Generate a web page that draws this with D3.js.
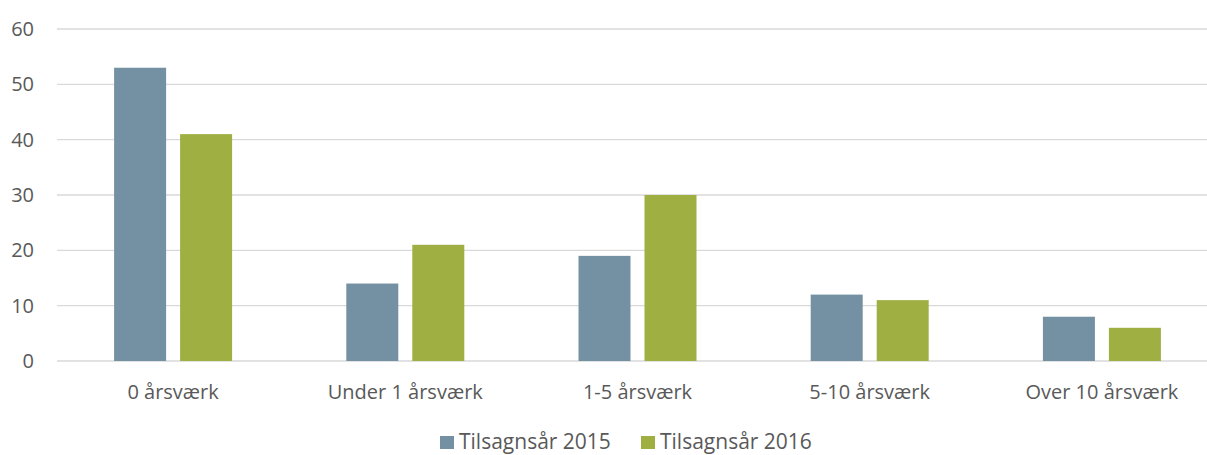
<!DOCTYPE html>
<html>
<head>
<meta charset="utf-8">
<script src="https://cdn.jsdelivr.net/npm/d3@7"></script>
<style>
  body { margin: 0; background: #fff; overflow: hidden; }
  text { font-family: "Open Sans", "Noto Sans", sans-serif; fill: #595959; }
</style>
</head>
<body>
<svg id="chart"></svg>
<script>
// Chart data
const categories = ['0 årsværk', 'Under 1 årsværk', '1-5 årsværk', '5-10 årsværk', 'Over 10 årsværk'];
const seriesNames = ['Tilsagnsår 2015', 'Tilsagnsår 2016'];
const values2015 = [53, 14, 19, 12, 8];
const values2016 = [41, 21, 30, 11, 6];
const yTicks = [0, 10, 20, 30, 40, 50, 60];
const colors = ['#7491a3', '#9faf42'];

const width = 1207, height = 455;
const margin = { top: 29, bottom: 94, left: 57 };

const svg = d3.select('#chart')
    .attr('width', width)
    .attr('height', height);

// plot area runs a little past the right edge of the picture
const x = d3.scaleBand()
    .domain(categories)
    .range([margin.left, 1218]);

const xInner = d3.scaleBand()
    .domain(seriesNames)
    .range([0, 118])
    .paddingInner(0.212);

const y = d3.scaleLinear()
    .domain([0, 60])
    .range([height - margin.bottom, margin.top]);

// Gridlines
svg.append('g')
    .selectAll('line')
    .data(yTicks)
    .join('line')
    .attr('x1', margin.left)
    .attr('x2', width)
    .attr('y1', d => y(d))
    .attr('y2', d => y(d))
    .attr('stroke', '#d9d9d9')
    .attr('stroke-width', 1.3);

// Y labels
svg.append('g')
    .selectAll('text')
    .data(yTicks)
    .join('text')
    .attr('x', 34)
    .attr('y', d => y(d))
    .attr('dy', '0.35em')
    .attr('text-anchor', 'end')
    .attr('font-size', 20)
    .text(d => d);

// Bars
const rows = categories.map((c, i) => ({ cat: c, vals: [values2015[i], values2016[i]] }));

const groups = svg.append('g')
    .selectAll('g')
    .data(rows)
    .join('g')
    .attr('transform', d => `translate(${x(d.cat) + x.bandwidth() / 2 - 59},0)`);

groups.selectAll('rect')
    .data(d => d.vals.map((v, j) => ({ name: seriesNames[j], v, j })))
    .join('rect')
    .attr('x', d => xInner(d.name))
    .attr('width', xInner.bandwidth())
    .attr('y', d => y(d.v))
    .attr('height', d => y(0) - y(d.v))
    .attr('fill', d => colors[d.j]);

// X axis labels
svg.append('g')
    .selectAll('text')
    .data(categories)
    .join('text')
    .attr('x', d => x(d) + x.bandwidth() / 2)
    .attr('y', 399)
    .attr('text-anchor', 'middle')
    .attr('font-size', 20)
    .text(d => d);

// Legend
const legendX = [440, 641];
const legend = svg.append('g')
    .selectAll('g')
    .data(seriesNames)
    .join('g')
    .attr('transform', (d, i) => `translate(${legendX[i]},436)`);

legend.append('rect')
    .attr('width', 14)
    .attr('height', 13)
    .attr('fill', (d, i) => colors[i]);

legend.append('text')
    .attr('x', 19)
    .attr('y', 13)
    .attr('font-size', 21)
    .text(d => d);
</script>
</body>
</html>
